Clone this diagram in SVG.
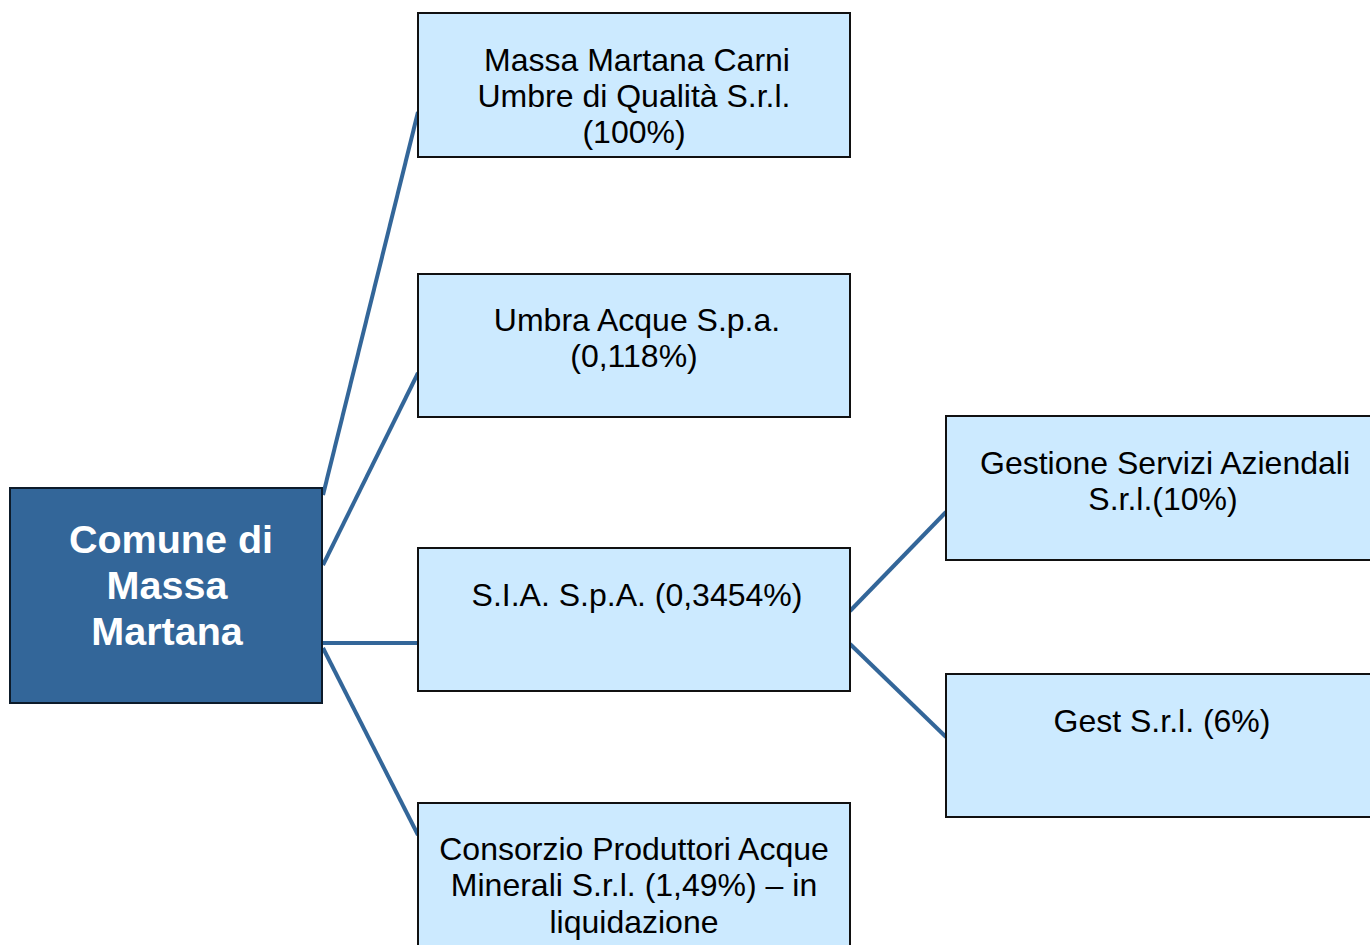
<svg xmlns="http://www.w3.org/2000/svg" width="1370" height="945" viewBox="0 0 1370 945">
<style>
.box{fill:#cceaff;stroke:#111;stroke-width:2}
.root{fill:#336699;stroke:#0d1b2a;stroke-width:2}
.t{font-family:"Liberation Sans",Arial,sans-serif;font-size:32px;fill:#000;text-anchor:middle}
.rt{font-family:"Liberation Sans",Arial,sans-serif;font-size:39.5px;font-weight:bold;fill:#fff;text-anchor:middle}
.c{stroke:#336699;stroke-width:4;fill:none}
</style>
<rect width="1370" height="945" fill="#fff"/>
<g id="connectors">
<line class="c" x1="323" y1="495" x2="418" y2="112"/>
<line class="c" x1="323" y1="565" x2="418" y2="373"/>
<line class="c" x1="323" y1="643" x2="418" y2="643"/>
<line class="c" x1="323" y1="648" x2="418" y2="835"/>
<line class="c" x1="850" y1="611" x2="946" y2="512"/>
<line class="c" x1="850" y1="644" x2="946" y2="737"/>
</g>
<g id="root">
<rect class="root" x="10" y="488" width="312" height="215"/>
<text class="rt" x="171" y="553">Comune di</text>
<text class="rt" x="167" y="599">Massa</text>
<text class="rt" x="167" y="645">Martana</text>
</g>
<g id="n1">
<rect class="box" x="418" y="13" width="432" height="144"/>
<text class="t" x="637" y="71">Massa Martana Carni</text>
<text class="t" x="634" y="107">Umbre di Qualità S.r.l.</text>
<text class="t" x="634" y="143">(100%)</text>
</g>
<g id="n2">
<rect class="box" x="418" y="274" width="432" height="143"/>
<text class="t" x="637" y="331">Umbra Acque S.p.a.</text>
<text class="t" x="634" y="367">(0,118%)</text>
</g>
<g id="n3">
<rect class="box" x="418" y="548" width="432" height="143"/>
<text class="t" x="637" y="606">S.I.A. S.p.A. (0,3454%)</text>
</g>
<g id="n4">
<rect class="box" x="418" y="803" width="432" height="160"/>
<text class="t" x="634" y="860">Consorzio Produttori Acque</text>
<text class="t" x="634" y="896">Minerali S.r.l. (1,49%) – in</text>
<text class="t" x="634" y="933">liquidazione</text>
</g>
<g id="n5">
<rect class="box" x="946" y="416" width="440" height="144"/>
<text class="t" x="1165" y="474">Gestione Servizi Aziendali</text>
<text class="t" x="1163" y="510">S.r.l.(10%)</text>
</g>
<g id="n6">
<rect class="box" x="946" y="674" width="440" height="143"/>
<text class="t" x="1162" y="732">Gest S.r.l. (6%)</text>
</g>
</svg>
